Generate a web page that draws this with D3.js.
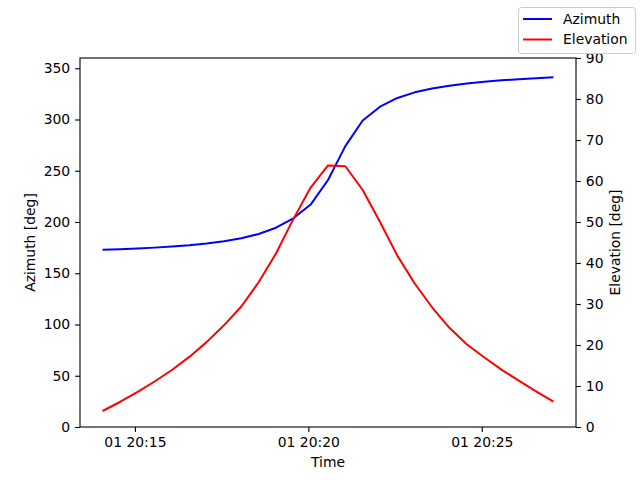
<!DOCTYPE html>
<html><head><meta charset="utf-8">
<script src="https://cdn.jsdelivr.net/npm/d3@7"></script>
<style>
body{margin:0;background:#fff;}
text{font-family:"DejaVu Sans",sans-serif;font-size:13.9px;fill:#000;}
</style></head>
<body><svg id="c" width="640" height="480"></svg>
<script>
const times = ["20:14:04","20:14:34","20:15:04","20:15:34","20:16:04","20:16:34","20:17:04","20:17:34","20:18:04","20:18:34","20:19:04","20:19:34","20:20:04","20:20:34","20:21:04","20:21:34","20:22:04","20:22:34","20:23:04","20:23:34","20:24:04","20:24:34","20:25:04","20:25:34","20:26:04","20:26:34","20:27:04"];
const azimuth = [173,173.5,174.2,175,176,177.3,179,181.2,184.2,188.3,194.4,203.6,217,241,274,299,312.5,321,326.5,330.2,333,335.2,336.9,338.2,339.3,340.3,341.1];
const elevation = [3.9,6.1,8.5,11.1,13.9,17.1,20.7,24.8,29.4,35.3,42.3,50.7,58.4,63.8,63.6,57.8,50.0,41.8,35.0,29.2,24.2,20.2,17.0,14.0,11.3,8.7,6.2];
const azTicks = [0,50,100,150,200,250,300,350];
const elTicks = [0,10,20,30,40,50,60,70,80,90];
const seriesNames = ["Azimuth","Elevation"];
const seriesColors = ["#0000ff","#ff0000"];

const parse = d3.utcParse("%Y-%m-%d %H:%M:%S");
const dates = times.map(t => parse("2000-01-01 " + t));
const L=80,R=576,T=58,B=427;
const svg = d3.select("#c");

const t0 = dates[0], t1 = dates[dates.length-1];
const pad = (t1 - t0) * 0.05;
const x = d3.scaleUtc().domain([new Date(+t0 - pad), new Date(+t1 + pad)]).range([L,R]);
const yL = d3.scaleLinear().domain([0,360]).range([B,T]);
const yR = d3.scaleLinear().domain([0,90]).range([B,T]);

const tickLen = 4.9;
function styleAxis(g){
  g.select(".domain").remove();
  g.selectAll(".tick line").attr("stroke","#000").attr("stroke-width",1.1);
  g.selectAll(".tick text").style("font-family","DejaVu Sans").style("font-size","13.9px").attr("fill","#000");
}
const xAxis = svg.append("g").attr("transform",`translate(0,${B})`)
  .call(d3.axisBottom(x).tickValues(["20:15:00","20:20:00","20:25:00"].map(t=>parse("2000-01-01 "+t)))
    .tickFormat(d3.utcFormat("%d %H:%M")).tickSizeInner(tickLen).tickSizeOuter(0).tickPadding(4.9));
styleAxis(xAxis);
xAxis.selectAll(".tick text").attr("dy","0.71em").attr("y",tickLen+5.5);

const yAxisL = svg.append("g").attr("transform",`translate(${L},0)`)
  .call(d3.axisLeft(yL).tickValues(azTicks).tickSizeInner(tickLen).tickSizeOuter(0).tickPadding(4.9));
styleAxis(yAxisL);
const yAxisR = svg.append("g").attr("transform",`translate(${R},0)`)
  .call(d3.axisRight(yR).tickValues(elTicks).tickSizeInner(tickLen).tickSizeOuter(0).tickPadding(4.9));
styleAxis(yAxisR);

const lineAz = d3.line().x((d,i)=>x(dates[i])).y(d=>yL(d));
const lineEl = d3.line().x((d,i)=>x(dates[i])).y(d=>yR(d));
svg.append("path").datum(azimuth).attr("d",lineAz).attr("fill","none").attr("stroke",seriesColors[0]).attr("stroke-width",2).attr("stroke-linejoin","round");
svg.append("path").datum(elevation).attr("d",lineEl).attr("fill","none").attr("stroke",seriesColors[1]).attr("stroke-width",2).attr("stroke-linejoin","round");

svg.append("rect").attr("x",L).attr("y",T).attr("width",R-L).attr("height",B-T)
  .attr("fill","none").attr("stroke","#000").attr("stroke-width",1.1);

svg.append("text").attr("x",(L+R)/2).attr("y",467).attr("text-anchor","middle").text("Time");
svg.append("text").attr("transform",`translate(35,${(T+B)/2}) rotate(-90)`).attr("text-anchor","middle").text("Azimuth [deg]");
svg.append("text").attr("transform",`translate(620,${(T+B)/2}) rotate(-90)`).attr("text-anchor","middle").text("Elevation [deg]");

// legend
const lg = svg.append("g");
lg.append("rect").attr("x",518.5).attr("y",7.5).attr("width",117).attr("height",46).attr("rx",3)
  .attr("fill","#fff").attr("fill-opacity",0.8).attr("stroke","#cccccc").attr("stroke-width",1);
seriesNames.forEach((n,i)=>{
  const yy = 19 + i*20.5;
  lg.append("line").attr("x1",523).attr("x2",552).attr("y1",yy).attr("y2",yy).attr("stroke",seriesColors[i]).attr("stroke-width",2);
  lg.append("text").attr("x",563).attr("y",yy).attr("dy","0.35em").text(n);
});
</script></body></html>
